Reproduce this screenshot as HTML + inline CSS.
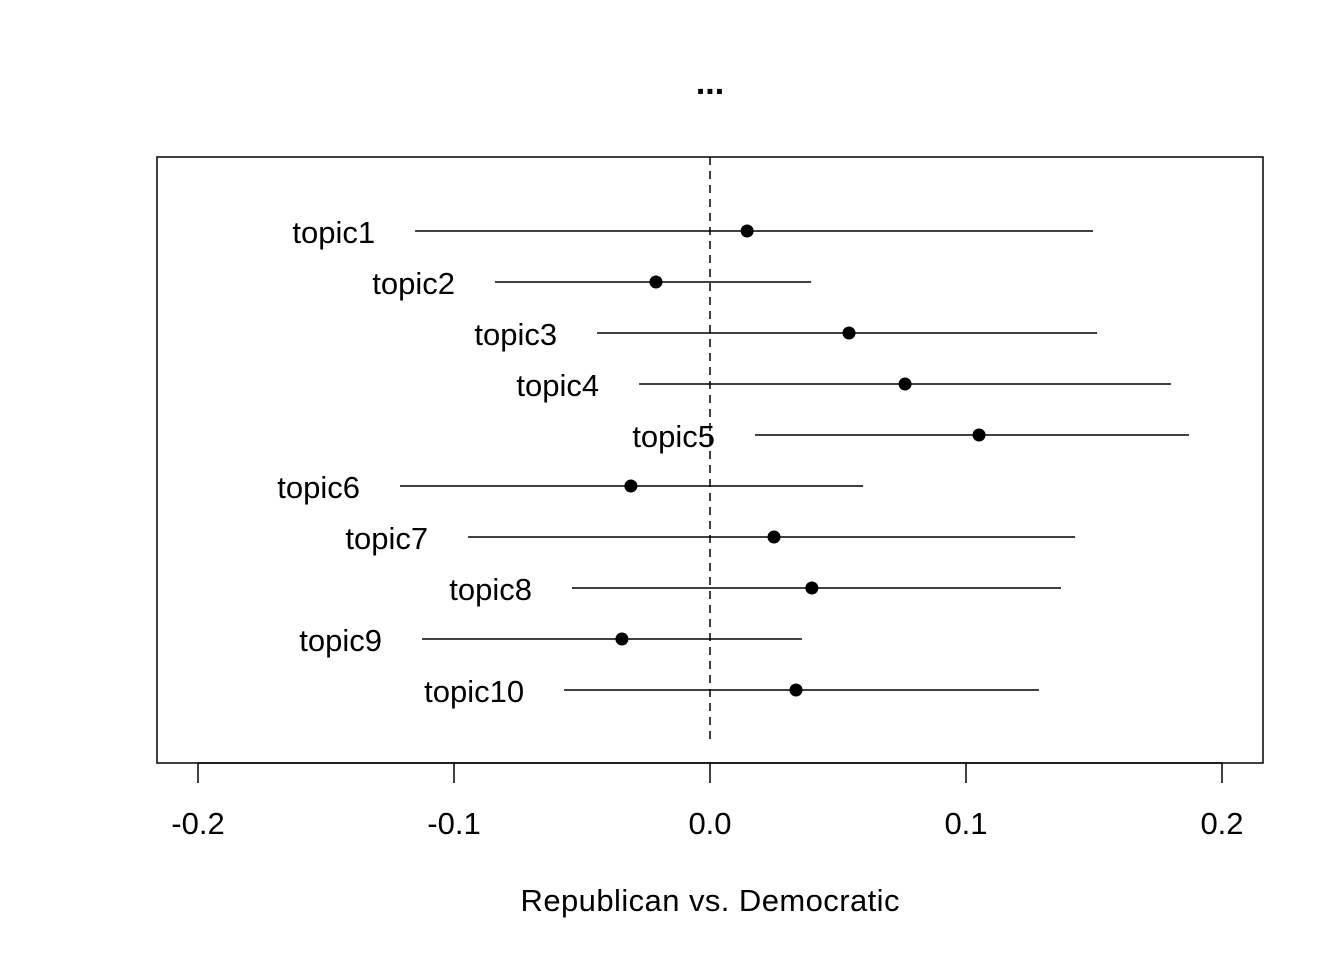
<!DOCTYPE html>
<html><head><meta charset="utf-8"><style>
html,body{margin:0;padding:0;background:#fff;}
svg text{font-family:"Liberation Sans",Arial,sans-serif;fill:#000;}
</style></head><body>
<svg id="chart" width="1344" height="960" xmlns="http://www.w3.org/2000/svg">
<rect width="1344" height="960" fill="#fff"/>
<text x="710" y="94" font-size="34" font-weight="bold" text-anchor="middle">...</text>
<rect x="157" y="157" width="1106" height="606" fill="none" stroke="#000" stroke-width="1.5"/>
<text x="710" y="911" font-size="31" text-anchor="middle" textLength="379" lengthAdjust="spacing">Republican vs. Democratic</text>
<g id="marks"></g>
</svg>
<script>
const topics = ["topic1","topic2","topic3","topic4","topic5","topic6","topic7","topic8","topic9","topic10"];
const estimates = [0.0145,-0.0211,0.0543,0.0762,0.1051,-0.0309,0.025,0.0398,-0.0344,0.0336];
const lowerCI = [-0.1152,-0.084,-0.0441,-0.0277,0.0176,-0.1211,-0.0945,-0.0539,-0.1125,-0.057];
const upperCI = [0.1496,0.0395,0.1512,0.1801,0.1871,0.0598,0.1426,0.1371,0.0359,0.1285];
const xTicks = [-0.2,-0.1,0,0.1,0.2];
const xTickLabels = ["-0.2","-0.1","0.0","0.1","0.2"];

const NS="http://www.w3.org/2000/svg";
const g=document.getElementById('marks');
const xs=v=>710+v*2560;
const ys=i=>231+i*51;
function mk(t,a){const e=document.createElementNS(NS,t);for(const k in a)e.setAttribute(k,a[k]);g.appendChild(e);return e;}
let z=mk('line',{x1:xs(0),x2:xs(0),y1:157,y2:743,stroke:'#000','stroke-width':1.5,'stroke-dasharray':'8,6'});


let ax=mk('line',{x1:xs(xTicks[0]),x2:xs(xTicks[xTicks.length-1]),y1:763,y2:763,stroke:'#000','stroke-width':1.5});


xTicks.forEach((t,i)=>{
  let l=mk('line',{x1:xs(t),x2:xs(t),y1:763,y2:783,stroke:'#000','stroke-width':1.5});
  
  
  let tx=mk('text',{x:xs(t),y:834,'font-size':31,'text-anchor':'middle'});
  tx.textContent=xTickLabels[i];
  
  
});
topics.forEach((n,i)=>{
  const y=ys(i);
  let l=mk('line',{x1:xs(lowerCI[i]),x2:xs(upperCI[i]),y1:y,y2:y,stroke:'#000','stroke-width':1.5});
  
  
  let c=mk('circle',{cx:xs(estimates[i]),cy:y,r:6.5,fill:'#000'});
  
  
  let t=mk('text',{x:xs(lowerCI[i])-40,y:y+12,'font-size':31,'text-anchor':'end'});
  t.textContent=n;
  
  
});
</script>
</body></html>
